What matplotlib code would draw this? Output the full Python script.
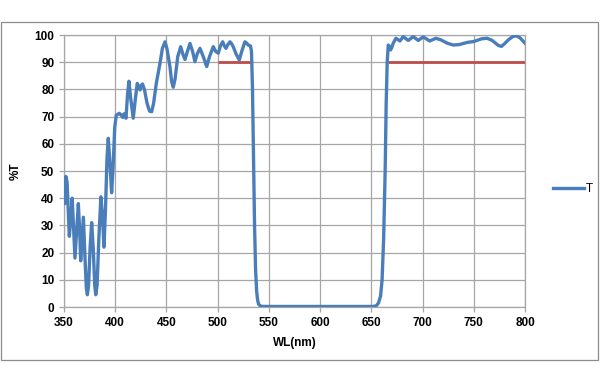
import matplotlib
matplotlib.use("Agg")
import matplotlib.pyplot as plt
from matplotlib.patches import Rectangle

plt.rcParams['font.family'] = ['Liberation Sans', 'DejaVu Sans']

wavelength = [350, 350.8, 351.8, 353, 355.2, 356.5, 358, 359.5, 360.7, 362.3, 364, 365.3, 366.3,
              367.6, 368.9, 370.5, 371.8, 372.8, 374, 375.5, 377, 378.5, 380, 381, 382.3, 384,
              386, 387.5, 389, 390.5, 392, 393.2, 394.5, 396.5, 398, 399.5, 401, 404, 406, 407.3,
              408.5, 409.5, 410.5, 412, 413.4, 415, 417.6, 419.5, 421.5, 423, 424.2, 425.5, 426.6,
              428.5, 431, 433.5, 435.6, 437.5, 440, 443.7, 446, 448.6, 450.5, 453.4, 455, 456.7,
              458.5, 461, 463.9, 466, 468.1, 470.5, 473, 475.5, 477.8, 480, 482.7, 486, 489.3,
              492, 495.7, 498, 500.6, 502.7, 504.9, 506.5, 508.1, 510, 512, 513.6, 515.2, 518,
              521.1, 523.5, 526.6, 528.3, 529.9, 532, 533, 534, 535, 536, 537, 538, 539, 540,
              542, 545, 600, 652, 655, 657, 659, 660.5, 662, 663.5, 664.5, 665.5, 666.5, 667.5,
              668.8, 670, 671.4, 674, 677.9, 681.1, 686, 690.9, 695.8, 700.6, 707, 713, 718, 724,
              730, 736, 744, 750, 757.6, 763, 768, 773.8, 777, 780, 784, 788, 791.5, 795, 798, 800]
transmission = [47, 38, 48, 46, 26, 32, 40, 28, 18, 28, 38, 28, 17,
                25, 33, 18, 7, 4.5, 8, 22, 31, 22, 8, 4.5, 8, 25,
                40.5, 34, 22, 36, 55, 62, 55, 42, 52, 66, 70.5, 71.2, 70.5, 69.7,
                71, 70.6, 69.4, 78, 83, 77, 69.4, 76, 82.2, 81, 79.8, 81.5, 82,
                80, 75, 72, 71.8, 75, 82, 89.6, 95, 97.5, 95, 88.4, 83, 80.8,
                84, 92, 95.7, 93, 91, 94, 96.9, 94, 90.2, 93, 95.1, 92, 88.4,
                92, 95.7, 94, 93.3, 96, 97.5, 96, 95.1, 96.5, 97.5, 96.8, 95.7, 93,
                90.8, 94, 97.5, 97, 96.3, 96, 94, 80, 55, 30, 14, 6, 2.5, 1,
                0.3, 0.2, 0.2, 0.2, 0.5, 1.5, 4, 10, 25, 50, 75, 90, 96.3, 96,
                94.5, 95.5, 97, 98.8, 97.8, 99.4, 98, 99.4, 98, 99.3, 97.8, 98.8, 98.2, 97,
                96.3, 96.5, 97.3, 97.6, 98.6, 98.8, 98, 96.2, 95.8, 96.8, 98.3, 99.4, 99.7, 99, 97.8, 97]

spec1_wl = [500, 533]
spec1_t = [90, 90]
spec2_wl = [666, 800]
spec2_t = [90, 90]

x_ticks = [350, 400, 450, 500, 550, 600, 650, 700, 750, 800]
y_ticks = [0, 10, 20, 30, 40, 50, 60, 70, 80, 90, 100]

fig = plt.figure(figsize=(6.0, 3.83), dpi=100)
ax = fig.add_axes([64/600, 1-307/383, (525-64)/600, (307-35)/383])

grid_c = '#a6a6a6'
ax.plot(spec1_wl, spec1_t, color='#be4b48', lw=2.0, solid_capstyle='butt', zorder=3)
ax.plot(spec2_wl, spec2_t, color='#be4b48', lw=2.0, solid_capstyle='butt', zorder=3)
ax.plot(wavelength, transmission, color='#4a7ebb', lw=2.4, label='T', zorder=4,
        solid_joinstyle='round')

ax.set_xlim(350, 800)
ax.set_ylim(0, 100)
ax.set_xticks(x_ticks)
ax.set_yticks(y_ticks)
ax.grid(True, color=grid_c, lw=0.9)
ax.set_axisbelow(True)
for s in ax.spines.values():
    s.set_color(grid_c)
    s.set_linewidth(0.9)
ax.tick_params(axis='both', colors=grid_c, length=3.5, width=0.9, labelcolor='black',
               labelsize=8.5)
for lab in ax.get_xticklabels() + ax.get_yticklabels():
    lab.set_fontweight('bold')

ax.set_xlabel('WL(nm)', fontsize=8.5, fontweight='bold', labelpad=6)
ax.set_ylabel('%T', fontsize=8.5, fontweight='bold', labelpad=9)

ax.legend(loc='center left', bbox_to_anchor=(553/600, 1-189/383), bbox_transform=fig.transFigure,
          frameon=False, borderpad=0, borderaxespad=0, handlelength=2.6, handletextpad=0.2,
          prop={'size': 8.5})

fig.patches.append(Rectangle((1/600, 1-360/383), 597/600, 338/383, transform=fig.transFigure,
                             fill=False, edgecolor='#8c8c8c', lw=0.9))

fig.savefig('out.png', dpi=100)
